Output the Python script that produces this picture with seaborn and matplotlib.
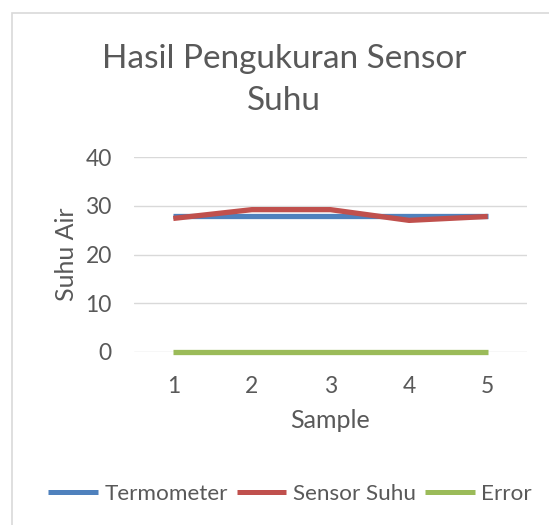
import numpy as np
import pandas as pd
import seaborn as sns
from matplotlib import pyplot as plt
from matplotlib.patches import Rectangle

samples = [1, 2, 3, 4, 5]
termometer = [28.0, 28.0, 28.0, 28.0, 28.0]
sensor_suhu = [27.4, 29.2, 29.2, 27.0, 27.8]
error = [0.0, 0.0, 0.0, 0.0, 0.0]
series_names = ['Termometer', 'Sensor Suhu', 'Error']
colors = ['#4f81bd', '#c0504d', '#9bbb59']

df = pd.DataFrame({'Sample': samples, 'Termometer': termometer,
                   'Sensor Suhu': sensor_suhu, 'Error': error})
long = df.melt(id_vars='Sample', var_name='series', value_name='value')

sns.set_style('white')
plt.rcParams['font.family'] = ['Lato', 'DejaVu Sans']
txt = '#595959'

fig = plt.figure(figsize=(5.49, 5.25), dpi=100)
ax = fig.add_axes([134 / 549, 1 - 352 / 525, (527 - 134) / 549, (352 - 157) / 525])

sns.lineplot(data=long, x='Sample', y='value', hue='series', hue_order=series_names,
             palette=colors, linewidth=3.8, ax=ax, legend=False, sort=False)

ax.set_ylim(0, 40)
ax.set_xlim(0.5, 5.5)
ax.set_yticks([0, 10, 20, 30, 40])
ax.set_xticks(samples)
ax.grid(axis='y', color='#d9d9d9', linewidth=1)
ax.set_axisbelow(True)
for s in ax.spines.values():
    s.set_visible(False)
ax.tick_params(length=0, labelsize=16.5, colors=txt)
ax.tick_params(axis='x', pad=17)
ax.tick_params(axis='y', pad=16)
ax.set_xlabel('Sample', fontsize=18, color=txt, labelpad=9)
ax.set_ylabel('Suhu Air', fontsize=18, color=txt)
ax.yaxis.set_label_coords((78 - 134) / 393, 0.5)
for ln in ax.lines:
    ln.set_solid_capstyle('butt')
    ln.set_clip_on(False)

fig.text(284 / 549, 1 - 80 / 525, 'Hasil Pengukuran Sensor\nSuhu', ha='center', va='center',
         fontsize=24, color=txt, linespacing=1.54)

# chart border
fig.patches.append(Rectangle((12 / 549, -0.05), 1.1, 1 - 13 / 525 + 0.05,
                             transform=fig.transFigure, fill=False,
                             edgecolor='#d9d9d9', linewidth=1.2))

handles = [plt.Line2D([], [], color=c, linewidth=3.6, solid_capstyle='butt') for c in colors]
fig.legend(handles, series_names, loc='center', bbox_to_anchor=(290 / 549, 1 - 494 / 525),
           ncol=3, frameon=False, fontsize=16.2, labelcolor=txt, handlelength=2.2,
           handletextpad=0.3, columnspacing=0.4, borderpad=0, borderaxespad=0)

fig.savefig('out.png', dpi=100)
